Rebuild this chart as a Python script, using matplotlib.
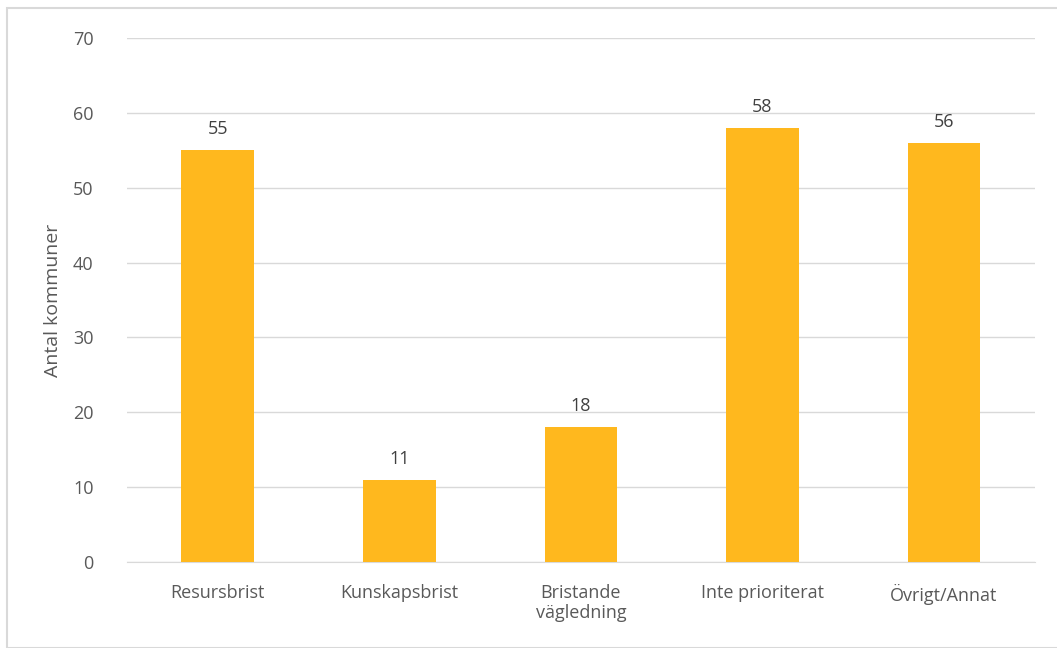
import matplotlib
matplotlib.use("Agg")
import matplotlib.pyplot as plt
from matplotlib.patches import Rectangle

categories = ["Resursbrist", "Kunskapsbrist", "Bristande\nvägledning", "Inte prioriterat", "Övrigt/Annat"]
values = [55, 11, 18, 58, 56]

bar_color = "#FFB81E"
text_color = "#595959"
grid_color = "#D9D9D9"

plt.rcParams["font.family"] = ["Open Sans", "DejaVu Sans"]

fig = plt.figure(figsize=(10.57, 6.48), dpi=100)
ax = fig.add_axes([0.120, 0.1327, 0.859, 0.8087])

# light frame around the chart area
fig.patches.append(Rectangle((7 / 1057, 0), 1.0, 1 - 8 / 648, transform=fig.transFigure,
                             fill=False, edgecolor=grid_color, linewidth=1.5))

x = range(len(categories))
bars = ax.bar(x, values, width=0.4, color=bar_color, zorder=3)
for b, v in zip(bars, values):
    ax.text(b.get_x() + b.get_width() / 2, v + 1.6, str(v), ha="center", va="bottom",
            fontsize=13, color="#404040")

ax.set_xlim(-0.5, len(categories) - 0.5)
ax.set_ylim(0, 70)
ax.set_yticks(range(0, 71, 10))
ax.set_xticks(list(x))
ax.set_xticklabels(categories, linespacing=1.15)
ax.yaxis.grid(True, color=grid_color, linewidth=1, zorder=0)
for s in ["top", "right", "left"]:
    ax.spines[s].set_visible(False)
ax.spines["bottom"].set_color(grid_color)
ax.tick_params(axis="both", length=0, colors=text_color, labelsize=13)
ax.tick_params(axis="x", pad=16)
ax.tick_params(axis="y", pad=24)
ax.set_ylabel("Antal kommuner", fontsize=14, color=text_color, labelpad=8)

fig.savefig("out.png", dpi=100)
